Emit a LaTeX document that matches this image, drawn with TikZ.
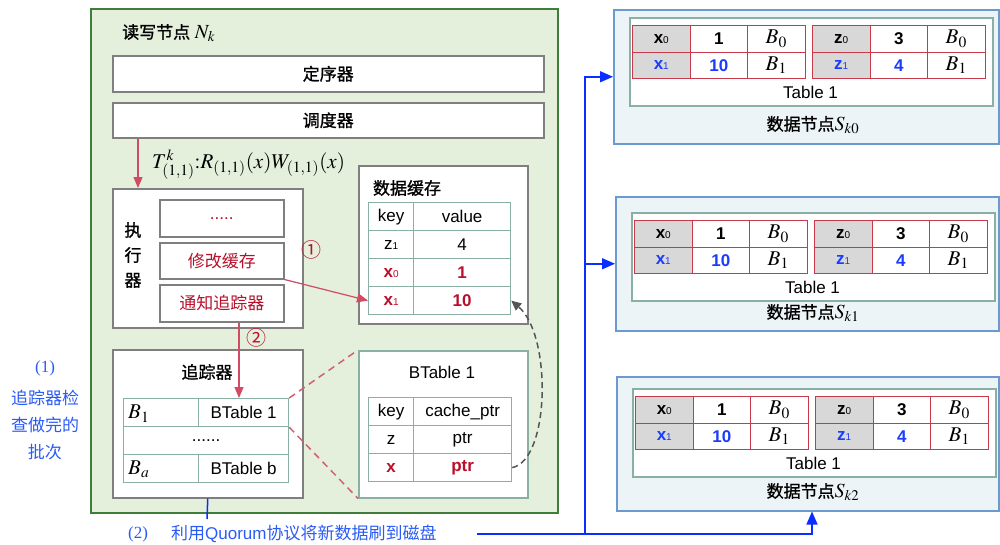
\documentclass[tikz,border=0pt]{standalone}
\usepackage{mathptmx}
\usepackage{fontspec}
\setmainfont{Liberation Sans}
\newfontfamily\cjk{Noto Sans CJK SC}
\newfontfamily\cjkb{Noto Sans CJK SC}[FakeBold=1.2]
\newfontfamily\serifrm{Liberation Serif}
\usetikzlibrary{arrows.meta,calc}
\newcommand\zh[1]{{\cjk #1}}
\newcommand\zhb[1]{{\cjkb #1}}
\newcommand\sd[1]{{\fontsize{10}{10}\selectfont #1}}
\definecolor{gfill}{HTML}{E4EFDC}
\definecolor{gdraw}{HTML}{3E7D3A}
\definecolor{graydraw}{HTML}{7F7F7F}
\definecolor{tealdraw}{HTML}{8AAFA3}
\definecolor{bfill}{HTML}{EDF4F7}
\definecolor{bdraw}{HTML}{6B9AD0}
\definecolor{redcell}{HTML}{C83A4A}
\definecolor{keyfill}{HTML}{D8D8D8}
\definecolor{redtext}{HTML}{B8102A}
\definecolor{bluetext}{HTML}{1A3CFF}
\definecolor{bluelbl}{HTML}{2A5BF5}
\definecolor{blueline}{HTML}{0A2EFF}
\definecolor{redarrow}{HTML}{D24A63}
\definecolor{reddash}{HTML}{D06272}
\definecolor{cgray}{HTML}{555555}
\tikzset{
  skin/.pic={
    \node[ibox, minimum width=363, minimum height=88] (-box) at (0,0) {};
    \node[kcell] (-a1) at (3,8) {\textbf{x}\sd{0}};
    \node[rcell] (-a2) at (60.5,8) {\textbf{1}};
    \node[rcell, font=\fontsize{21}{22}\selectfont] (-a3) at (118,8) {$B_0$};
    \node[kcell, text=bluetext] (-b1) at (3,34.5) {\textbf{x}\sd{1}};
    \node[rcell, text=bluetext] (-b2) at (60.5,34.5) {\textbf{10}};
    \node[rcell, font=\fontsize{21}{22}\selectfont] (-b3) at (118,34.5) {$B_1$};
    \node[kcell] (-c1) at (183,8) {\textbf{z}\sd{0}};
    \node[rcell] (-c2) at (240.5,8) {\textbf{3}};
    \node[rcell, font=\fontsize{21}{22}\selectfont] (-c3) at (298,8) {$B_0$};
    \node[kcell, text=bluetext] (-d1) at (183,34.5) {\textbf{z}\sd{1}};
    \node[rcell, text=bluetext] (-d2) at (240.5,34.5) {\textbf{4}};
    \node[rcell, font=\fontsize{21}{22}\selectfont] (-d3) at (298,34.5) {$B_1$};
    \node (-cap) at (181.5,75) {Table 1};
  }
}
\begin{document}
\begin{tikzpicture}[x=1pt,y=-1pt,
  every node/.style={font=\fontsize{17}{20}\selectfont, inner sep=0pt},
  box/.style={draw=graydraw, line width=1.5pt, fill=white, anchor=north west},
  tcell/.style={draw=tealdraw, line width=1.2pt, fill=white, anchor=north west, minimum height=28},
  ibox/.style={draw=tealdraw, line width=1.5pt, fill=white, anchor=north west},
  rcell/.style={draw=redcell, line width=1pt, fill=white, anchor=north west, minimum width=57.5, minimum height=26.5},
  kcell/.style={rcell, fill=keyfill},
  skbox/.style={draw=bdraw, line width=1.5pt, fill=bfill, anchor=north west, minimum height=134},
  ra/.style={draw=redarrow, line width=1.2pt, -{Triangle[length=11pt,width=9pt]}},
  rd/.style={draw=reddash, line width=1.5pt, dash pattern=on 7pt off 5pt},
  gd/.style={draw=cgray, line width=1.5pt, dash pattern=on 6pt off 4pt, -{Triangle[length=10pt,width=9pt]}},
  bl/.style={draw=blueline, line width=1.5pt},
  bla/.style={bl, -{Triangle[length=13pt,width=11pt]}},
]
\useasboundingbox (0,0) rectangle (1000,544);

% main read/write node
\node[draw=gdraw, line width=1.8pt, fill=gfill, anchor=north west, minimum width=467, minimum height=504] (main) at (90,8) {};
\node[anchor=west] (ttl) at (122,33) {\zhb{读写节点} \fontsize{20}{20}\selectfont$N_k$};
\node[box, minimum width=431, minimum height=36] (seq) at (112,55) {};
\node at (seq.center) {\zhb{定序器}};
\node[box, minimum width=431, minimum height=35] (sch) at (112,102) {};
\node at (sch.center) {\zhb{调度器}};
\node[anchor=base west, font=\fontsize{21}{24}\selectfont] (form) at (152,168) {$T^{k}_{(1,1)}{:}R_{(1,1)}(x)W_{(1,1)}(x)$};

% executor
\node[box, minimum width=190, minimum height=139] (exe) at (112,188) {};
\node[font=\cjkb\fontsize{17}{25}\selectfont, align=center] (el) at (133,255) {执\\行\\器};
\node[box, minimum width=124, minimum height=37, text=redtext] (e1) at (159,199) {.....};
\node[box, minimum width=124, minimum height=36, text=redtext] (e2) at (159,242) {\zh{修改缓存}};
\node[box, minimum width=124, minimum height=37, text=redtext] (e3) at (159,284) {\zh{通知追踪器}};

% data cache
\node[box, minimum width=169, minimum height=158] (dc) at (358,165) {};
\node (dct) at (407,188) {\zhb{数据缓存}};
\node[tcell, minimum width=45] (d11) at (368,202) {key};
\node[tcell, minimum width=97] (d12) at (413,202) {value};
\node[tcell, minimum width=45] (d21) at (368,230) {z\sd{1}};
\node[tcell, minimum width=97] (d22) at (413,230) {4};
\node[tcell, minimum width=45, text=redtext] (d31) at (368,258) {\textbf{x}\sd{0}};
\node[tcell, minimum width=97, text=redtext] (d32) at (413,258) {\textbf{1}};
\node[tcell, minimum width=45, text=redtext] (d41) at (368,286) {\textbf{x}\sd{1}};
\node[tcell, minimum width=97, text=redtext] (d42) at (413,286) {\textbf{10}};

% tracker
\node[box, minimum width=190, minimum height=148] (tr) at (112,349) {};
\node (trt) at (207,372) {\zhb{追踪器}};
\node[tcell, minimum width=75] (t11) at (123,398) {};
\node[tcell, minimum width=90] (t12) at (198,398) {BTable 1};
\node[tcell, minimum width=165] (t2) at (123,426) {......};
\node[tcell, minimum width=75] (t31) at (123,454) {};
\node[tcell, minimum width=90] (t32) at (198,454) {BTable b};
\node[anchor=west, font=\fontsize{21}{22}\selectfont] (t11b) at ($(t11.west)+(5,1)$) {$B_1$};
\node[anchor=west, font=\fontsize{21}{22}\selectfont] (t31b) at ($(t31.west)+(5,1)$) {$B_a$};

% BTable 1
\node[ibox, minimum width=169, minimum height=147] (bt) at (358,350) {};
\node (btt) at (442,372) {BTable 1};
\node[tcell, minimum width=45] (b11) at (368,397) {key};
\node[tcell, minimum width=98] (b12) at (413,397) {cache\_ptr};
\node[tcell, minimum width=45] (b21) at (368,425) {z};
\node[tcell, minimum width=98] (b22) at (413,425) {ptr};
\node[tcell, minimum width=45, text=redtext] (b31) at (368,453) {\textbf{x}};
\node[tcell, minimum width=98, text=redtext] (b32) at (413,453) {\textbf{ptr}};

% red connectors
\coordinate (ax) at (138,0);
\draw[ra] (ax |- sch.south) -- (ax |- exe.north);
\draw[ra] (e2.south east) -- (d41.west);
\node[text=redtext, font=\cjk\fontsize{20}{22}\selectfont] (n1) at (311,250) {①};
\coordinate (bx) at (239,0);
\draw[ra] (bx |- e3.south) -- (bx |- t12.north);
\node[text=redtext, font=\cjk\fontsize{20}{22}\selectfont] (n2) at (256,338) {②};
\draw[rd] (t12.north east) -- (bt.north west);
\draw[rd] (t12.south east) -- (bt.south west);
\draw[gd] (b32.east) .. controls (550,460) and (552,335) .. (d42.east);

% storage nodes
\node[skbox, minimum width=385] (sk0) at (613,9) {};
\pic (p0) at (629,17) {skin};
\node (sl0) at (813,125) {\zhb{数据节点}\fontsize{20}{20}\selectfont$S_{k0}$};
\node[skbox, minimum width=383] (sk1) at (615,196) {};
\pic (p1) at (631,212) {skin};
\node (sl1) at (813,313) {\zhb{数据节点}\fontsize{20}{20}\selectfont$S_{k1}$};
\node[skbox, minimum width=382] (sk2) at (616,376) {};
\pic (p2) at (632,388) {skin};
\node (sl2) at (813,492) {\zhb{数据节点}\fontsize{20}{20}\selectfont$S_{k2}$};

% left note
\node[text=bluelbl, font=\serifrm\fontsize{17}{20}\selectfont] (l1) at (45,368) {(1)};
\node[text=bluelbl, font=\cjk\fontsize{17}{27}\selectfont, align=center] (l2) at (45,425) {追踪器检\\查做完的\\批次};

% bottom note and blue connectors
\node[text=bluelbl, font=\serifrm\fontsize{17}{20}\selectfont, anchor=west] (l3) at (128,534) {(2)};
\node[text=bluelbl, anchor=west] (l4) at (171,534) {\zh{利用}Quorum\zh{协议将新数据刷到磁盘}};
\coordinate (tq) at (207,519);
\draw[bl] (tr.south) -- (tq);
\coordinate (q0) at (477,534);
\coordinate (qv) at (585,534);
\coordinate (qr) at (812,534);
\draw[bla] (q0) -- (qv) |- (sk0.west);
\draw[bla] (qv |- sk1.west) -- (sk1.west);
\draw[bla] (qv) -- (qr) -- (qr |- sk2.south);
\end{tikzpicture}
\end{document}
